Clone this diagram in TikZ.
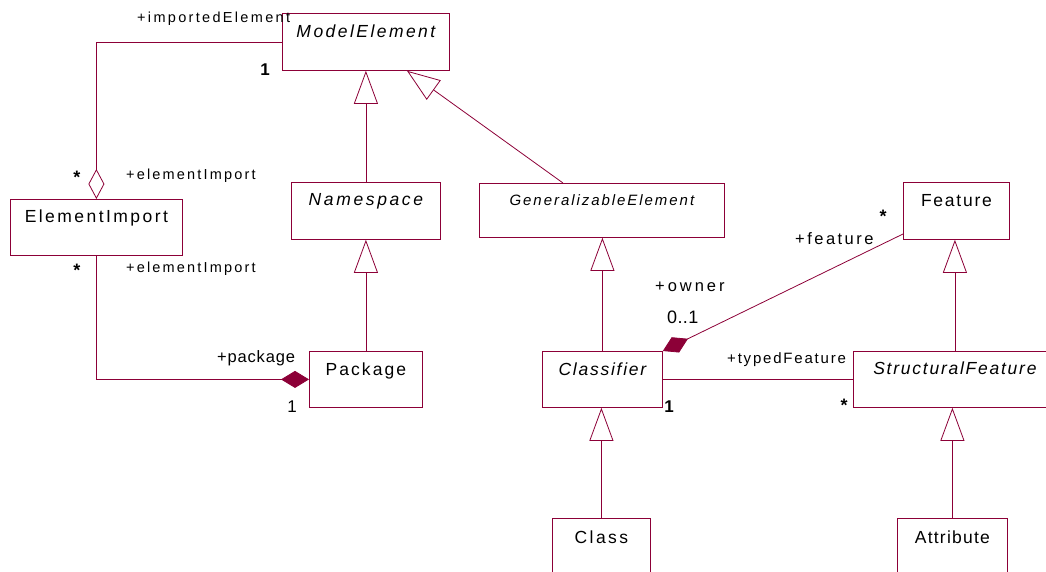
\documentclass[tikz,border=0pt]{standalone}
\usepackage{fontspec}
\setmainfont{Liberation Sans}
\usetikzlibrary{arrows.meta}
\definecolor{umlred}{RGB}{140,0,55}
% size and tracking of a label in one go
\newcommand\umlfont[2]{\fontsize{#1}{#1}\selectfont\addfontfeatures{LetterSpace=#2}}
\begin{document}
\begin{tikzpicture}[x=1pt,y=-1pt,
  box/.style={draw=umlred, line width=0.8pt, fill=white, inner sep=0pt, anchor=north west},
  title/.style={anchor=base, inner sep=0pt, text=black},
  lbl/.style={anchor=base west, inner sep=0pt, text=black},
  mult/.style={anchor=base, inner sep=0pt, text=black},
  gen/.style={draw=umlred, line width=0.8pt, -{Triangle[open, fill=white, length=33pt, width=24pt]}},
  agg/.style={draw=umlred, line width=0.8pt, -{Diamond[open, fill=white, length=30pt, width=16pt]}},
  comp/.style={draw=umlred, line width=0.8pt, -{Diamond[length=28pt, width=17pt, fill=umlred]}},
  assoc/.style={draw=umlred, line width=0.8pt},
]
\useasboundingbox (0,0) rectangle (1046,571);
\clip (0,0) rectangle (1046,571);

% classes
\node[box, minimum width=167pt, minimum height=57pt] (me) at (282,13) {};
\node[box, minimum width=149pt, minimum height=57pt] (ns) at (291,182) {};
\node[box, minimum width=172pt, minimum height=56pt] (ei) at (10,199) {};
\node[box, minimum width=245pt, minimum height=54pt] (ge) at (479,183) {};
\node[box, minimum width=106pt, minimum height=57pt] (fe) at (903,182) {};
\node[box, minimum width=113pt, minimum height=56pt] (pk) at (309,351) {};
\node[box, minimum width=120pt, minimum height=56pt] (cl) at (542,351) {};
\node[box, minimum width=203pt, minimum height=56pt] (sf) at (853,351) {};
\node[box, minimum width=98pt, minimum height=70pt] (cs) at (552,518) {};
\node[box, minimum width=110pt, minimum height=70pt] (at) at (897,518) {};

% class names
\node[title, font=\umlfont{17.5}{14}\itshape] (me-t) at ([yshift=-24pt]me.north) {ModelElement};
\node[title, font=\umlfont{17.5}{15}\itshape] (ns-t) at ([yshift=-23pt]ns.north) {Namespace};
\node[title, font=\umlfont{17.5}{14}] (ei-t) at ([yshift=-23pt]ei.north) {ElementImport};
\node[title, font=\umlfont{15}{13}\itshape] (ge-t) at ([yshift=-22pt]ge.north) {GeneralizableElement};
\node[title, font=\umlfont{17.5}{10}] (fe-t) at ([yshift=-24pt]fe.north) {Feature};
\node[title, font=\umlfont{17.5}{12}] (pk-t) at ([yshift=-24pt]pk.north) {Package};
\node[title, font=\umlfont{17.5}{10}\itshape] (cl-t) at ([yshift=-24pt]cl.north) {Classifier};
\node[title, font=\umlfont{17.5}{10}\itshape] (sf-t) at ([yshift=-23pt]sf.north) {StructuralFeature};
\node[title, font=\umlfont{17.5}{14}] (cs-t) at ([yshift=-25pt]cs.north) {Class};
\node[title, font=\umlfont{17.5}{7}] (at-t) at ([yshift=-25pt]at.north) {Attribute};

% generalizations
\draw[gen] (ns.north) -- (me.south);
\draw[gen] ([xshift=84pt]ge.north west) -- ([xshift=125pt]me.south west);
\draw[gen] (pk.north) -- (ns.south);
\draw[gen] (cl.north) -- (cl.north |- ge.south);
\draw[gen] (cs.north) -- (cs.north |- cl.south);
\draw[gen] (sf.north) -- (sf.north |- fe.south);
\draw[gen] (at.north) -- (at.north |- sf.south);

% associations
\draw[agg] ([yshift=-29pt]me.north west) -| (ei.north);
\draw[comp] (ei.south) |- (pk.west);
\draw[comp] ([yshift=-52pt]fe.north west) -- (cl.north east);
\draw[assoc] (cl.east) -- (sf.west);

% roles and multiplicities
\node[lbl, font=\umlfont{14.5}{16}] (l-ie) at (137,22) {+importedElement};
\node[mult, font=\umlfont{17}{0}\bfseries] (m-me) at (265,75) {1};
\node[mult, font=\umlfont{18}{0}\bfseries] (m-ei1) at (77,183) {*};
\node[lbl, font=\umlfont{14.5}{15}] (l-ei1) at (126,179) {+elementImport};
\node[mult, font=\umlfont{18}{0}\bfseries] (m-ei2) at (77,276) {*};
\node[lbl, font=\umlfont{14.5}{15}] (l-ei2) at (126,272) {+elementImport};
\node[lbl, font=\umlfont{16.5}{5}] (l-pk) at (217,362) {+package};
\node[mult, font=\umlfont{17}{0}] (m-pk) at (292,412) {1};
\node[lbl, font=\umlfont{16.5}{18}] (l-ow) at (655,291) {+owner};
\node[lbl, font=\umlfont{18}{2}] (m-ow) at (667,323) {0..1};
\node[mult, font=\umlfont{18}{0}\bfseries] (m-fe) at (883,222) {*};
\node[lbl, font=\umlfont{16.5}{15}] (l-fe) at (795,244) {+feature};
\node[lbl, font=\umlfont{15}{12}] (l-tf) at (727,363) {+typedFeature};
\node[mult, font=\umlfont{17}{0}\bfseries] (m-cl) at (669,412) {1};
\node[mult, font=\umlfont{18}{0}\bfseries] (m-sf) at (844,411) {*};
\end{tikzpicture}
\end{document}
